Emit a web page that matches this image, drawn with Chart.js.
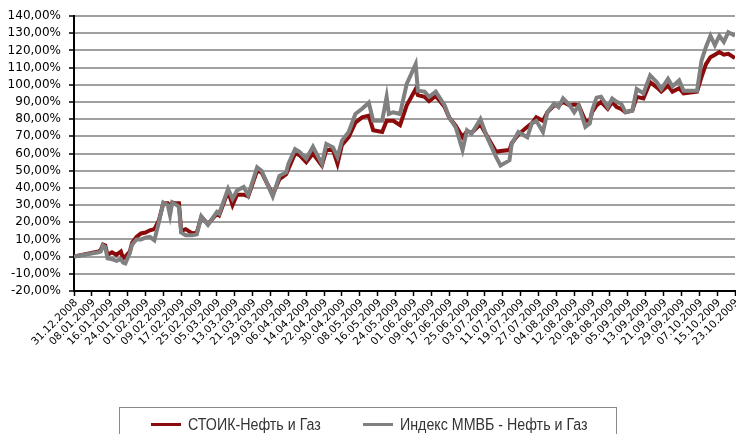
<!DOCTYPE html>
<html>
<head>
<meta charset="utf-8">
<script src="https://cdn.jsdelivr.net/npm/chart.js@4.4.1/dist/chart.umd.min.js"></script>
<style>
  html, body { margin: 0; padding: 0; background: #fff; }
  #wrap { position: relative; width: 736px; height: 434px; overflow: hidden; }
  #legend { position: absolute; left: 119px; top: 407px; width: 498px; height: 60px;
            border: 1.5px solid #8a8a8a; box-sizing: border-box;
            font-family: "Liberation Sans", Arial, sans-serif;
            font-size: 16px; color: #333; }
  .item { position: absolute; top: 8px; white-space: nowrap; line-height: 18px; }
  .swatch { display: inline-block; width: 30px; height: 3px; vertical-align: middle; margin-right: 7px; position: relative; top: -1px; }
  .txt { display: inline-block; transform: scaleX(0.89); transform-origin: 0 50%; }
</style>
</head>
<body>
<div id="wrap">
  <canvas id="c" width="736" height="434"></canvas>
  <div id="legend"></div>
</div>
<script>
const seriesNames = ["СТОИК-Нефть и Газ", "Индекс ММВБ - Нефть и Газ"];

const dates = [
  "31.12.2008","11.01.2009","12.01.2009","13.01.2009","14.01.2009","15.01.2009","17.01.2009","19.01.2009","21.01.2009","22.01.2009",
  "23.01.2009","25.01.2009","26.01.2009","28.01.2009","30.01.2009","01.02.2009","03.02.2009","05.02.2009","07.02.2009","09.02.2009",
  "11.02.2009","12.02.2009","13.02.2009","15.02.2009","16.02.2009","17.02.2009","19.02.2009","22.02.2009","24.02.2009","26.02.2009",
  "01.03.2009","05.03.2009","06.03.2009","10.03.2009","12.03.2009","14.03.2009","17.03.2009","19.03.2009","23.03.2009","25.03.2009",
  "30.03.2009","02.04.2009","05.04.2009","06.04.2009","09.04.2009","11.04.2009","14.04.2009","17.04.2009","21.04.2009","23.04.2009",
  "26.04.2009","28.04.2009","30.04.2009","03.05.2009","06.05.2009","09.05.2009","12.05.2009","14.05.2009","18.05.2009","20.05.2009",
  "21.05.2009","23.05.2009","26.05.2009","29.05.2009","02.06.2009","03.06.2009","06.06.2009","08.06.2009","11.06.2009","15.06.2009",
  "17.06.2009","20.06.2009","23.06.2009","25.06.2009","27.06.2009","01.07.2009","04.07.2009","08.07.2009","10.07.2009","14.07.2009",
  "15.07.2009","18.07.2009","22.07.2009","24.07.2009","26.07.2009","29.07.2009","31.07.2009","03.08.2009","05.08.2009","07.08.2009",
  "10.08.2009","12.08.2009","14.08.2009","17.08.2009","19.08.2009","20.08.2009","22.08.2009","24.08.2009","27.08.2009","29.08.2009",
  "31.08.2009","02.09.2009","04.09.2009","07.09.2009","09.09.2009","12.09.2009","15.09.2009","18.09.2009","20.09.2009","23.09.2009",
  "25.09.2009","28.09.2009","30.09.2009","06.10.2009","08.10.2009","10.10.2009","12.10.2009","14.10.2009","16.10.2009","18.10.2009",
  "20.10.2009","23.10.2009"
];

// СТОИК-Нефть и Газ, %
const stoikValues = [
  0, 3, 4, 7, 6.5, 1, 2.5, 1, 3, -1,
  0, 3, 8, 11.5, 13.5, 14, 15.3, 16, 21, 31,
  31, 29, 31.5, 31, 31, 15, 16, 13.5, 14, 23,
  19, 25, 24, 38, 30, 36, 36, 35, 50, 49,
  36, 45, 48, 51, 60, 59, 55, 60, 53, 62,
  62, 54, 65, 69.5, 78, 81, 82, 73.5, 72.5, 79,
  79, 79, 76.5, 88, 97.5, 94, 93, 90.5, 93.5, 87,
  81, 76, 69.5, 73, 72, 77, 70, 61, 61.5, 62,
  66, 71, 75.5, 77.5, 81, 79, 84, 88, 88, 90,
  88, 88.5, 88, 79, 79, 84, 88, 90, 86, 90,
  87, 86, 84, 85, 93, 92, 101.5, 98.5, 96, 99.5,
  96, 98, 95, 96, 104.5, 112, 116, 117.5, 119, 117.5,
  118, 115.5
];

// Индекс ММВБ - Нефть и Газ, %
const micexValues = [
  0, 2.5, 3, 6.5, 5.5, -1, -1.5, -2.5, -1.5, -3.5,
  -4, 2, 7, 10, 10, 11, 11.5, 9.5, 20, 31.5,
  30, 24, 31.5, 30, 29, 14, 12.5, 12.5, 13, 23.5,
  18.5, 26, 25, 39.5, 33.7, 38.5, 40.5, 35.7, 52, 50,
  35, 47, 49, 54, 62.5, 61, 57, 64, 54, 65.5,
  63.5, 58, 67.5, 72.5, 83, 86, 89.5, 79, 79, 93,
  83, 84, 83, 100.5, 112, 96.5, 96, 93, 96, 88,
  81, 75, 62, 73.5, 71.5, 80, 69.5, 58, 53, 56,
  65.5, 72.5, 69.5, 77.5, 79, 72.5, 84, 89, 87, 92,
  88, 84, 88, 75.5, 77.5, 85, 92.5, 93, 87, 92,
  90, 89, 84, 85, 97.5, 95, 105.5, 101.5, 97.5, 103.5,
  99, 102.5, 96.5, 96.5, 114, 122, 128.5, 123, 128.5, 125,
  130.5, 128.5
];

const startDate = "31.12.2008";
const endDate = "23.10.2009";
const tickStepDays = 8;
const yMin = -20, yMax = 140, yStep = 10;

const colors = ["#8B0A0A", "#808080"];

function toUTC(s) {
  const [d, m, y] = s.split(".").map(Number);
  return Date.UTC(y, m - 1, d);
}
const DAY = 86400000;
const base = toUTC(startDate);
const dayOf = s => Math.round((toUTC(s) - base) / DAY);
function fmtDate(dayNum) {
  const dt = new Date(base + dayNum * DAY);
  const dd = String(dt.getUTCDate()).padStart(2, "0");
  const mm = String(dt.getUTCMonth() + 1).padStart(2, "0");
  return dd + "." + mm + "." + dt.getUTCFullYear();
}

const xs = dates.map(dayOf);
const toPoints = vals => vals.map((v, i) => ({ x: xs[i], y: v }));

// Draws the x-axis tick labels at exactly 45 degrees, ending at each tick
const diagonalLabels = {
  id: "diagonalLabels",
  afterDraw(chart) {
    const sx = chart.scales.x;
    const ctx = chart.ctx;
    ctx.save();
    ctx.font = "10.5px 'DejaVu Sans'";
    ctx.fillStyle = "#000";
    ctx.textAlign = "right";
    ctx.textBaseline = "middle";
    sx.ticks.forEach(t => {
      const px = sx.getPixelForValue(t.value);
      ctx.save();
      ctx.translate(px + 2, sx.top + 10);
      ctx.rotate(-Math.PI / 4);
      ctx.fillText(fmtDate(t.value), 0, 0);
      ctx.restore();
    });
    ctx.restore();
  }
};

const chart = new Chart(document.getElementById("c"), {
  type: "line",
  data: {
    datasets: [
      { label: seriesNames[0], data: toPoints(stoikValues), borderColor: colors[0], backgroundColor: colors[0],
        borderWidth: 4, pointRadius: 0, tension: 0, order: 1 },
      { label: seriesNames[1], data: toPoints(micexValues), borderColor: colors[1], backgroundColor: colors[1],
        borderWidth: 4, pointRadius: 0, tension: 0, order: 0 }
    ]
  },
  plugins: [diagonalLabels],
  options: {
    responsive: false,
    animation: false,
    layout: { padding: { top: 16, right: 1, left: 0, bottom: 0 } },
    plugins: { legend: { display: false }, tooltip: { enabled: false } },
    scales: {
      x: {
        type: "linear",
        min: 0,
        max: dayOf(endDate),
        afterFit: s => { s.height = 143; },
        border: { display: true, color: "#000", width: 2 },
        grid: { drawOnChartArea: false, drawTicks: true, tickLength: 5, tickColor: "#000", tickWidth: 1.5 },
        ticks: {
          stepSize: tickStepDays,
          autoSkip: false,
          display: false,
          callback: v => fmtDate(v)
        }
      },
      y: {
        min: yMin,
        max: yMax,
        afterFit: s => { s.width = 74; },
        border: { display: true, color: "#000", width: 2 },
        grid: { color: "#a0a0a0", lineWidth: 2, drawTicks: true, tickLength: 5, tickColor: "#000", tickWidth: 1.5 },
        ticks: {
          stepSize: yStep,
          autoSkip: false,
          padding: 8,
          color: "#000",
          font: { family: "DejaVu Sans", size: 12 },
          callback: v => v.toFixed(2).replace(".", ",") + "%"
        }
      }
    }
  }
});

// HTML legend built from the chart datasets
const legend = document.getElementById("legend");
const lefts = [31, 243];
chart.data.datasets.forEach((ds, i) => {
  const it = document.createElement("div");
  it.className = "item";
  it.style.left = lefts[i] + "px";
  const sw = document.createElement("span");
  sw.className = "swatch";
  sw.style.background = ds.borderColor;
  it.appendChild(sw);
  const t = document.createElement("span");
  t.className = "txt";
  t.textContent = ds.label;
  it.appendChild(t);
  legend.appendChild(it);
});
</script>
</body>
</html>
